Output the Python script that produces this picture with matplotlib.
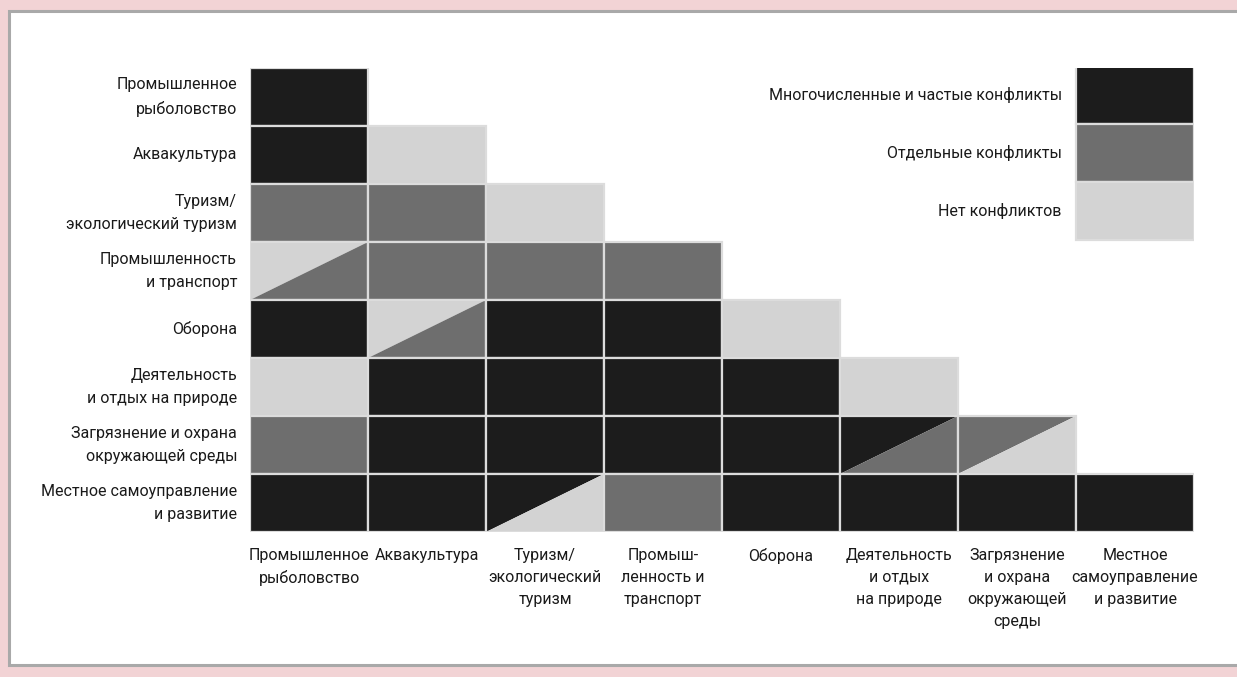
import matplotlib
matplotlib.use('Agg')
import matplotlib.pyplot as plt
from matplotlib.patches import Rectangle, Polygon

plt.rcParams['font.family'] = ['Roboto', 'DejaVu Sans']

# Activities (same order on both axes)
row_labels = ['Промышленное\nрыболовство', 'Аквакультура', 'Туризм/\nэкологический туризм',
              'Промышленность\nи транспорт', 'Оборона', 'Деятельность\nи отдых на природе',
              'Загрязнение и охрана\nокружающей среды', 'Местное самоуправление\nи развитие']
col_labels = ['Промышленное\nрыболовство', 'Аквакультура', 'Туризм/\nэкологический\nтуризм',
              'Промыш-\nленность и\nтранспорт', 'Оборона', 'Деятельность\nи отдых\nна природе',
              'Загрязнение\nи охрана\nокружающей\nсреды', 'Местное\nсамоуправление\nи развитие']

# Conflict level: 2 = many, 1 = some, 0 = none; tuple = (upper-left, lower-right) split cell
conflicts = [
    [2],
    [2, 0],
    [1, 1, 0],
    [(0, 1), 1, 1, 1],
    [2, (0, 1), 2, 2, 0],
    [0, 2, 2, 2, 2, 0],
    [1, 2, 2, 2, 2, (2, 1), (1, 0)],
    [2, 2, (2, 0), 1, 2, 2, 2, 2],
]

legend_labels = ['Многочисленные и частые конфликты', 'Отдельные конфликты', 'Нет конфликтов']
legend_levels = [2, 1, 0]

colors = {2: '#1c1c1c', 1: '#6e6e6e', 0: '#d3d3d3'}
edge = '#dcdcdc'
txt = '#1a1a1a'
fs = 11.5

W, H = 1237, 677
fig = plt.figure(figsize=(W / 100, H / 100), dpi=100)
fig.patch.set_facecolor('#f2d3d5')

# white panel with grey border
panel = Rectangle((9 / W, 1 - 665 / H), 1.0, (665 - 11) / H, transform=fig.transFigure,
                  facecolor='white', edgecolor='#a9a9a9', linewidth=2.2, zorder=-5)
fig.patches.append(panel)

ax = fig.add_axes([250 / W, 1 - 532 / H, 944 / W, 464 / H])
ax.set_zorder(1)
ax.set_xlim(0, 8)
ax.set_ylim(8, 0)
ax.axis('off')
ax.patch.set_alpha(0)

for r, row in enumerate(conflicts):
    for c, val in enumerate(row):
        if isinstance(val, tuple):
            up, low = val
            ax.add_patch(Polygon([(c, r + 1), (c, r), (c + 1, r)], closed=True,
                                 facecolor=colors[up], edgecolor='none'))
            ax.add_patch(Polygon([(c, r + 1), (c + 1, r), (c + 1, r + 1)], closed=True,
                                 facecolor=colors[low], edgecolor='none'))
            ax.add_patch(Rectangle((c, r), 1, 1, facecolor='none', edgecolor=edge, linewidth=1.6))
        else:
            ax.add_patch(Rectangle((c, r), 1, 1, facecolor=colors[val], edgecolor=edge, linewidth=1.6))

for r, lab in enumerate(row_labels):
    ax.text(-0.11, r + 0.5, lab, ha='right', va='center', fontsize=fs, color=txt,
            linespacing=1.7, clip_on=False)

for c, lab in enumerate(col_labels):
    ax.text(c + 0.5, 8.27, lab, ha='center', va='top', fontsize=fs, color=txt,
            linespacing=1.6, clip_on=False)

# legend
for i, (lab, lev) in enumerate(zip(legend_labels, legend_levels)):
    ax.add_patch(Rectangle((7, i - 0.03), 1, 1, facecolor=colors[lev], edgecolor=edge, linewidth=1.6))
    ax.text(6.88, i + 0.47, lab, ha='right', va='center', fontsize=fs, color=txt, clip_on=False)

fig.savefig('out.png', dpi=100, facecolor=fig.get_facecolor())
